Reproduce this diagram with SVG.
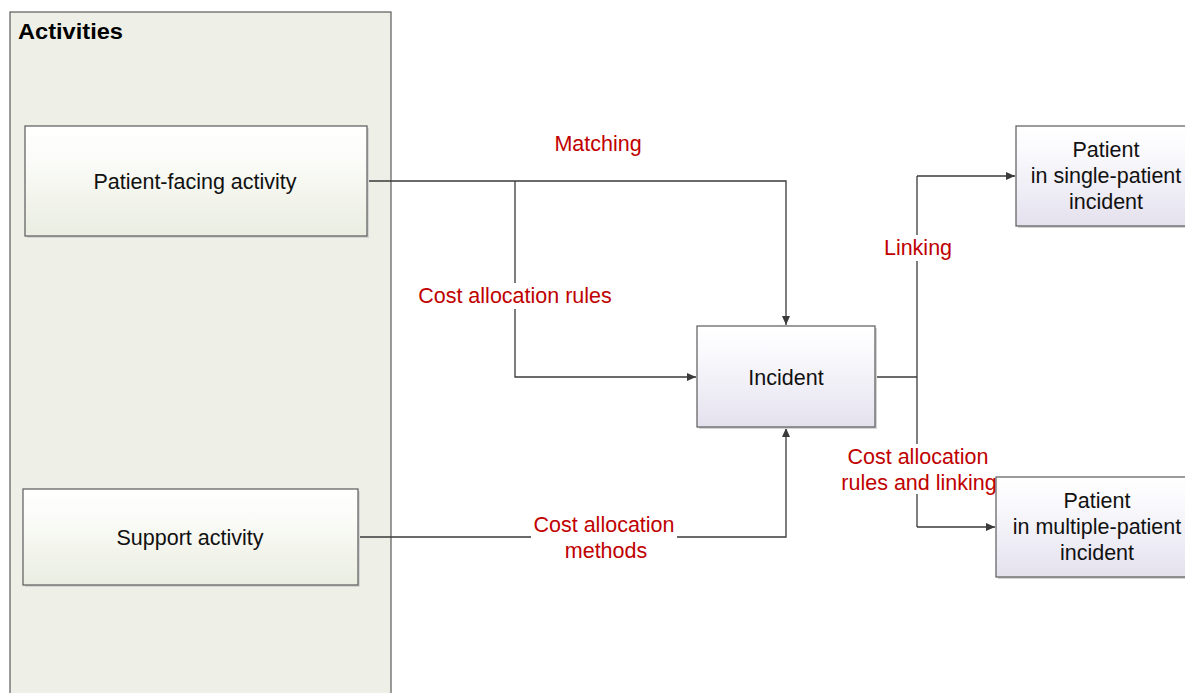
<svg xmlns="http://www.w3.org/2000/svg" width="1185" height="693" viewBox="0 0 1185 693">
  <defs>
    <linearGradient id="gActivity" x1="0" y1="0" x2="0" y2="1">
      <stop offset="0" stop-color="#ffffff"/>
      <stop offset="0.3" stop-color="#fbfcf8"/>
      <stop offset="1" stop-color="#eaede1"/>
    </linearGradient>
    <linearGradient id="gPatient" x1="0" y1="0" x2="0" y2="1">
      <stop offset="0" stop-color="#ffffff"/>
      <stop offset="0.3" stop-color="#f9f8fc"/>
      <stop offset="1" stop-color="#e4e1ee"/>
    </linearGradient>
    <marker id="arrow" markerWidth="10" markerHeight="8" refX="9" refY="4" orient="auto" markerUnits="userSpaceOnUse">
      <path d="M0,0 L9,4 L0,8 Z" fill="#3a3a3a"/>
    </marker>
  </defs>
  <style>
    text { font-family: "Liberation Sans", Arial, sans-serif; font-size: 21.5px; text-anchor: middle; }
    .dark { fill: #111111; }
    .lbl { fill: #c00000; }
    .box { stroke: #5a5a5a; stroke-width: 1.2; }
    .shadow { fill: #d4d4d4; }
    .conn { fill: none; stroke: #3a3a3a; stroke-width: 1.3; }
    .bg { fill: #ffffff; }
  </style>

  <rect width="1185" height="693" fill="#ffffff"/>

  <!-- Activities swimlane -->
  <g id="activities">
    <rect x="10" y="12" width="381" height="700" fill="#eef0e7" stroke="#5a5a5a" stroke-width="1.2"/>
    <text x="18" y="39" font-weight="bold" style="text-anchor:start" font-size="21" textLength="105" lengthAdjust="spacingAndGlyphs" fill="#000">Activities</text>
  </g>

  <!-- Connectors -->
  <g id="connectors">
    <path class="conn" d="M367,181 H786 V325" marker-end="url(#arrow)"/>
    <path class="conn" d="M515,181 V377 H696" marker-end="url(#arrow)"/>
    <path class="conn" d="M358,537 H786 V428" marker-end="url(#arrow)"/>
    <path class="conn" d="M875,377 H917"/>
    <path class="conn" d="M917,176 V527"/>
    <path class="conn" d="M917,176 H1015" marker-end="url(#arrow)"/>
    <path class="conn" d="M917,527 H995" marker-end="url(#arrow)"/>
  </g>

  <!-- Connector labels -->
  <g id="labels">
    <text class="lbl" x="598" y="151">Matching</text>
    <rect class="bg" x="417" y="283" width="196" height="26"/>
    <text class="lbl" x="515" y="303">Cost allocation rules</text>
    <rect class="bg" x="531" y="512" width="146" height="50"/>
    <text class="lbl" x="604" y="532">Cost allocation</text>
    <text class="lbl" x="606" y="558">methods</text>
    <rect class="bg" x="882" y="235" width="72" height="26"/>
    <text class="lbl" x="918" y="255">Linking</text>
    <rect class="bg" x="844" y="444" width="152" height="50"/>
    <text class="lbl" x="918" y="464">Cost allocation</text>
    <text class="lbl" x="919" y="490">rules and linking</text>
  </g>

  <g id="patient-facing">
    <rect class="shadow" x="27" y="128" width="342" height="110"/>
    <rect class="box" x="25" y="126" width="342" height="110" fill="url(#gActivity)"/>
    <text class="dark" x="195" y="189">Patient-facing activity</text>
  </g>

  <g id="support">
    <rect class="shadow" x="25" y="491" width="335" height="96"/>
    <rect class="box" x="23" y="489" width="335" height="96" fill="url(#gActivity)"/>
    <text class="dark" x="190" y="545">Support activity</text>
  </g>

  <g id="incident">
    <rect class="shadow" x="699" y="328" width="178" height="101"/>
    <rect class="box" x="697" y="326" width="178" height="101" fill="url(#gPatient)"/>
    <text class="dark" x="786" y="385">Incident</text>
  </g>

  <g id="patient-single">
    <rect class="shadow" x="1018" y="128" width="180" height="100"/>
    <rect class="box" x="1016" y="126" width="180" height="100" fill="url(#gPatient)"/>
    <text class="dark" x="1106" y="157">Patient</text>
    <text class="dark" x="1106" y="183">in single-patient</text>
    <text class="dark" x="1106" y="209">incident</text>
  </g>

  <g id="patient-multiple">
    <rect class="shadow" x="998" y="479" width="200" height="100"/>
    <rect class="box" x="996" y="477" width="200" height="100" fill="url(#gPatient)"/>
    <text class="dark" x="1097" y="508">Patient</text>
    <text class="dark" x="1097" y="534">in multiple-patient</text>
    <text class="dark" x="1097" y="560">incident</text>
  </g>
</svg>
